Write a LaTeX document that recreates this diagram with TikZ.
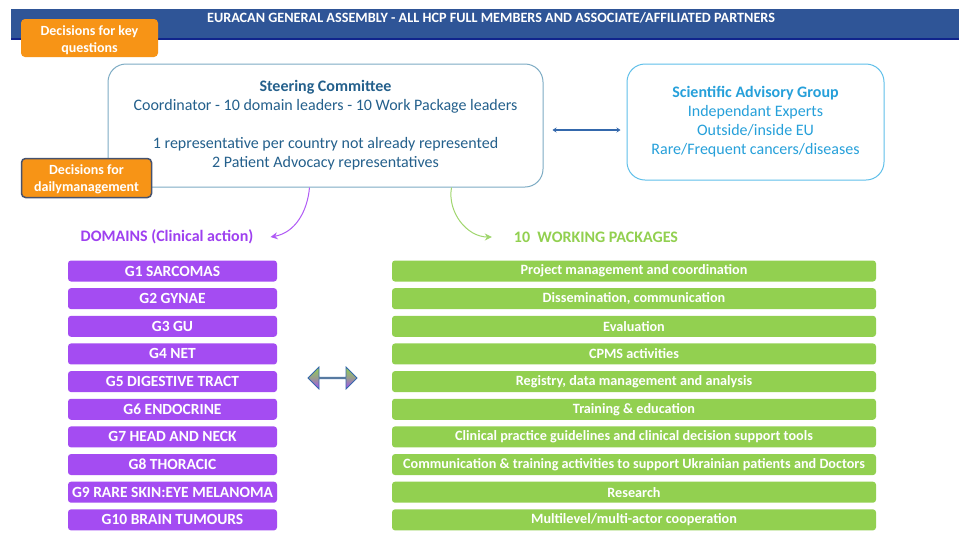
\documentclass[tikz,border=0pt]{standalone}
\usepackage{fontspec}
\setmainfont{Carlito}
\usetikzlibrary{arrows.meta,shapes.arrows}

\definecolor{barblue}{RGB}{47,85,151}
\definecolor{barline}{RGB}{16,36,140}
\definecolor{decorange}{RGB}{247,148,22}
\definecolor{decedge}{RGB}{70,82,110}
\definecolor{scedge}{RGB}{125,172,196}
\definecolor{sctext}{RGB}{36,96,140}
\definecolor{sagedge}{RGB}{96,192,234}
\definecolor{sagtext}{RGB}{38,160,218}
\definecolor{linkblue}{RGB}{52,104,172}
\definecolor{dompurple}{RGB}{164,76,242}
\definecolor{domtext}{RGB}{158,64,240}
\definecolor{wpgreen}{RGB}{146,208,80}
\definecolor{arrowpurple}{RGB}{176,90,246}
\definecolor{arrowgreen}{RGB}{160,214,110}

\tikzset{
  decbox/.style={fill=decorange, rounded corners=4pt, inner sep=0pt},
  dectext/.style={text=white, font=\bfseries\fontsize{14}{17}\selectfont,
    align=center, inner sep=0pt},
  panel/.style={rounded corners=18pt, line width=1pt, fill=white,
    align=center, inner sep=0pt},
  rowbox/.style={rounded corners=3pt, text=white, inner sep=0pt,
    minimum height=21pt},
  dombox/.style={rowbox, fill=dompurple, minimum width=209pt,
    font=\bfseries\fontsize{15.5}{17}\selectfont},
  wpbox/.style={rowbox, fill=wpgreen, minimum width=484pt,
    font=\bfseries\fontsize{14.2}{16}\selectfont},
  heading/.style={font=\bfseries\fontsize{16}{18}\selectfont, inner sep=0pt},
  curvearrow/.style={line width=1pt, -{Stealth[length=7pt,width=7pt]}},
}

\begin{document}
\begin{tikzpicture}[x=1pt,y=-1pt]
\useasboundingbox (0,0) rectangle (959,547);
\fill[white] (0,0) rectangle (959,547);

% general assembly banner
\node[fill=barblue, minimum width=948pt, minimum height=30pt, inner sep=0pt,
      anchor=north west] (ga) at (11,9) {};
\draw[barline, line width=2pt] (ga.south west) -- (ga.south east);
\node[text=white, font=\bfseries\fontsize{14.2}{16}\selectfont, inner sep=0pt]
  (gatext) at (491,18) {EURACAN GENERAL ASSEMBLY - ALL HCP FULL MEMBERS AND ASSOCIATE/AFFILIATED PARTNERS};

% steering committee and scientific advisory group
\node[panel, draw=scedge, text=sctext, minimum width=435pt, minimum height=123pt,
      font=\fontsize{16}{19}\selectfont] (sc) at (325.5,125.5)
  {{\bfseries Steering Committee}\\
   Coordinator - 10 domain leaders - 10 Work Package leaders\\[19pt]
   1 representative per country not already represented\\
   2 Patient Advocacy representatives};

\node[panel, draw=sagedge, text=sagtext, minimum width=257pt, minimum height=116pt,
      font=\fontsize{16}{19}\selectfont] (sag) at (755.5,122)
  {{\bfseries Scientific Advisory Group}\\
   Independant Experts\\
   Outside/inside EU\\
   Rare/Frequent cancers/diseases};

\coordinate (linkL) at ([yshift=-4.5pt]sc.east);
\draw[linkblue, line width=2pt, {Stealth[length=4pt,width=5pt]}-{Stealth[length=4pt,width=5pt]},
      shorten <=9pt, shorten >=6pt] (linkL) -- (linkL -| sag.west);

% decision labels
\node[decbox, minimum width=137pt, minimum height=38pt] (keyq) at (89.5,38) {};
\node[dectext] (keyqtext) at (89.5,40) {Decisions for key\\questions};
\node[decbox, draw=decedge, line width=1.5pt, minimum width=130pt, minimum height=39pt]
  (daily) at (86.5,178) {};
\node[dectext] (dailytext) at (86.5,179.5) {Decisions for\\dailymanagement};

% column headings
\node[heading, text=domtext] (domhead) at (167,237) {DOMAINS (Clinical action)};
\node[heading, text=wpgreen] (wphead) at (596,237) {10\ \ WORKING PACKAGES};

\draw[arrowpurple, curvearrow] ([xshift=202pt]sc.south west)
  to[out=-95, in=10] ([xshift=17pt]domhead.east);
\draw[arrowgreen, curvearrow] ([xshift=344pt]sc.south west)
  to[out=-100, in=180] ([xshift=-22pt]wphead.west);

% domains
\foreach \i/\lbl in {1/G1 SARCOMAS, 2/G2 GYNAE, 3/G3 GU, 4/G4 NET,
  5/G5 DIGESTIVE TRACT, 6/G6 ENDOCRINE, 7/G7 HEAD AND NECK, 8/G8 THORACIC,
  9/G9 RARE SKIN:EYE MELANOMA, 10/G10 BRAIN TUMOURS}
  \node[dombox] (d\i) at (172.5,{271+27.65*(\i-1)}) {\lbl};

% work packages
\foreach \i/\lbl in {1/Project management and coordination,
  2/{Dissemination, communication}, 3/Evaluation, 4/CPMS activities,
  5/{Registry, data management and analysis}, 6/Training \& education,
  7/Clinical practice guidelines and clinical decision support tools,
  8/Communication \& training activities to support Ukrainian patients and Doctors,
  9/Research, 10/{Multilevel/multi-actor cooperation}}
  \node[wpbox] (w\i) at (634,{271+27.65*(\i-1)}) {\lbl};

% link between domains and work packages
\node[double arrow, draw=linkblue, line width=0.8pt, top color=wpgreen,
      bottom color=dompurple, middle color=wpgreen!60!dompurple,
      minimum height=49pt, minimum width=22pt, double arrow head extend=5pt,
      inner sep=0pt] (dwlink) at (332.5,378) {};
\end{tikzpicture}
\end{document}
